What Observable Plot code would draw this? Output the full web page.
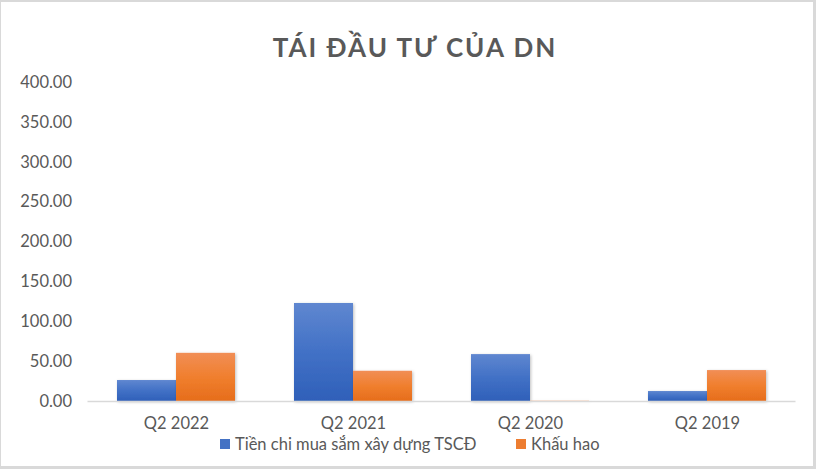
<!DOCTYPE html>
<html>
<head>
<meta charset="utf-8">
<script src="https://cdn.jsdelivr.net/npm/d3@7"></script>
<script src="https://cdn.jsdelivr.net/npm/@observablehq/plot@0.6"></script>
<style>
  html, body { margin: 0; padding: 0; background: #d9d9d9; width: 816px; height: 469px; overflow: hidden; }
  #chart { position: absolute; left: 1px; top: 2px; width: 812px; height: 464px; background: #fff; font-family: Lato, "Open Sans", sans-serif; color: #595959; }
  .title { height: 62px; line-height: 62px; text-align: center; font-size: 26px; font-weight: bold; letter-spacing: 2px; padding-left: 16px; box-sizing: border-box; position: relative; top: 14px; }
  #plot { position: absolute; left: 0; top: 62px; }
  .legend { position: absolute; top: 432px; left: 219px; font-size: 16.5px; white-space: nowrap; }
  .legend span.item { position: absolute; top: 0; display: inline-flex; align-items: center; }
  .legend i { display: inline-block; width: 10px; height: 10px; margin-right: 5px; }
</style>
</head>
<body>
<div id="chart">
  <div class="title" id="title"></div>
  <div id="plot"></div>
  <div class="legend" id="legend"></div>
</div>
<script>
const titleText = "TÁI ĐẦU TƯ CỦA DN";
const categories = ["Q2 2022", "Q2 2021", "Q2 2020", "Q2 2019"];
const seriesNames = ["Tiền chi mua sắm xây dựng TSCĐ", "Khấu hao"];
const capex = [26.3, 122.9, 58.8, 12.5];
const depreciation = [60.4, 37.9, 0.3, 38.8];
const yTicks = [0, 50, 100, 150, 200, 250, 300, 350, 400];
const seriesColors = ["#4472c4", "#ed7d31"];

document.getElementById("title").textContent = titleText;

const rows = categories.flatMap((c, i) => [
  {category: c, series: seriesNames[0], value: capex[i]},
  {category: c, series: seriesNames[1], value: depreciation[i]}
]);

const W = 812, H = 402, mL = 86.5, mR = 17.5, mT = 18, mB = 65;
const pIn = 1/3, pOut = 1/6;
const step = (W - mL - mR) / (categories.length - pIn + 2 * pOut);
const half = step * (1 - pIn) / 2;

const plot = Plot.plot({
  width: W, height: H,
  marginTop: mT, marginBottom: mB, marginLeft: mL, marginRight: mR,
  style: {fontFamily: "Lato, 'Open Sans', sans-serif", fontSize: "16.5px", color: "#595959", background: "transparent", overflow: "visible"},
  x: {domain: categories, paddingInner: pIn, paddingOuter: pOut, label: null, tickSize: 0, tickPadding: 16},
  y: {domain: [0, 400], ticks: yTicks, tickFormat: d => d.toFixed(2), label: null, tickSize: 0, tickPadding: 16},
  marks: [
    Plot.barY(rows.filter(d => d.series === seriesNames[0]), {x: "category", y: "value", fill: "url(#gBlue)", insetLeft: 0, insetRight: half}),
    Plot.barY(rows.filter(d => d.series === seriesNames[1]), {x: "category", y: "value", fill: "url(#gOrange)", insetLeft: half, insetRight: 0}),
    Plot.ruleY([0], {stroke: "#d9d9d9", strokeWidth: 1.5})
  ]
});

const defs = document.createElementNS("http://www.w3.org/2000/svg", "defs");
defs.innerHTML = `
  <linearGradient id="gBlue" x1="0" y1="0" x2="0" y2="1">
    <stop offset="0" stop-color="#5f87d0"/>
    <stop offset="0.5" stop-color="#4271c6"/>
    <stop offset="1" stop-color="#2f60b9"/>
  </linearGradient>
  <linearGradient id="gOrange" x1="0" y1="0" x2="0" y2="1">
    <stop offset="0" stop-color="#f18e56"/>
    <stop offset="0.5" stop-color="#f07f2e"/>
    <stop offset="1" stop-color="#e66d1b"/>
  </linearGradient>
  <filter id="shadow" x="-20%" y="-20%" width="140%" height="140%">
    <feDropShadow dx="1" dy="1" stdDeviation="1.5" flood-color="#000" flood-opacity="0.25"/>
  </filter>`;
plot.insertBefore(defs, plot.firstChild);
d3.select(plot).selectAll("g[aria-label='bar']").attr("filter", "url(#shadow)");
document.getElementById("plot").appendChild(plot);

// legend
const legend = document.getElementById("legend");
const legendLefts = [0, 296];
seriesNames.forEach((name, i) => {
  const item = document.createElement("span");
  item.className = "item";
  item.style.left = legendLefts[i] + "px";
  const sw = document.createElement("i");
  sw.style.background = seriesColors[i];
  item.appendChild(sw);
  item.appendChild(document.createTextNode(name));
  legend.appendChild(item);
});
</script>
</body>
</html>
